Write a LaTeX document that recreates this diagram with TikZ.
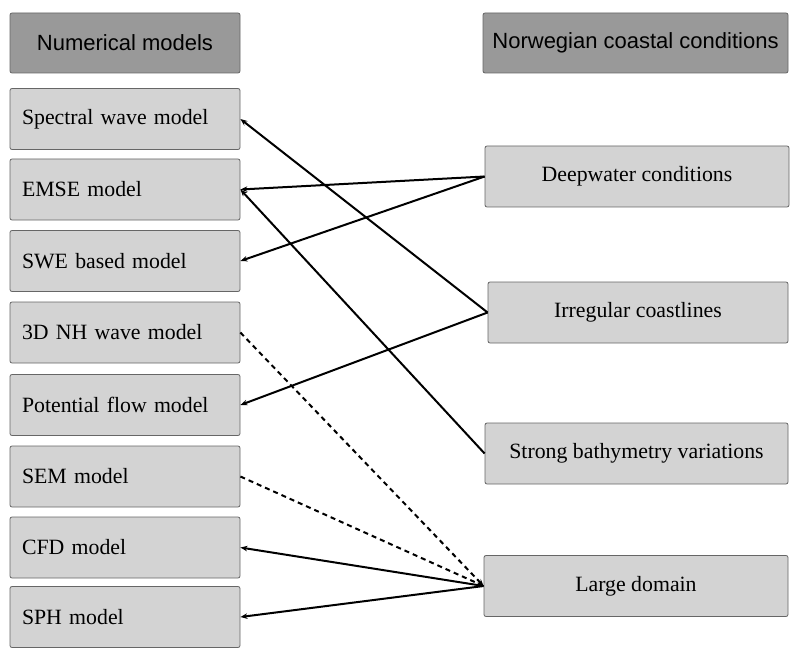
\documentclass[tikz,border=0pt]{standalone}
\usepackage{fontspec}
\setmainfont{Liberation Serif}
\setsansfont{Liberation Sans}
\usetikzlibrary{arrows.meta}
\definecolor{hdrfill}{HTML}{999999}
\definecolor{boxfill}{HTML}{D3D3D3}
\definecolor{boxline}{HTML}{666666}
\begin{document}
\begin{tikzpicture}[x=1pt,y=-1pt,
  basebox/.style={draw=boxline, line width=0.8pt, rounded corners=2pt, minimum height=61pt, inner sep=0pt},
  hdr/.style={basebox, fill=hdrfill, minimum height=60pt, font=\sffamily\fontsize{22}{25}\selectfont},
  lbox/.style={basebox, fill=boxfill, text width=206pt, inner xsep=12pt, align=left, font=\fontsize{21.8}{25}\selectfont},
  rbox/.style={basebox, fill=boxfill, align=center, font=\fontsize{21.8}{25}\selectfont},
  link/.style={line width=2pt, -{Stealth[length=7pt,width=5.5pt]}},
  dlink/.style={link, dash pattern=on 5pt off 4pt}]
\useasboundingbox (0,0) rectangle (791,652);
% headers
\node[hdr, minimum width=230pt] (hl) at (125,43) {Numerical models};
\node[hdr, minimum width=305pt] (hr) at (635.5,43) {Norwegian coastal conditions};
% left boxes
\node[lbox] (spec) at (125,119) {Spectral wave model};
\node[lbox] (emse) at (125,189.5) {EMSE model};
\node[lbox] (swe) at (125,261) {SWE based model};
\node[lbox] (nh) at (125,332.5) {3D NH wave model};
\node[lbox] (pot) at (125,405) {Potential flow model};
\node[lbox] (sem) at (125,476.5) {SEM model};
\node[lbox] (cfd) at (125,547.5) {CFD model};
\node[lbox] (sph) at (125,617) {SPH model};
% right boxes
\node[rbox, minimum width=304pt] (deep) at (637,176.5) {Deepwater conditions};
\node[rbox, minimum width=300pt] (irr) at (638,312.5) {Irregular coastlines};
\node[rbox, minimum width=303pt] (bath) at (636.5,453.5) {Strong bathymetry variations};
\node[rbox, minimum width=304pt] (large) at (636,586) {Large domain};
% connectors
\draw[link] (deep.west) -- (emse.east);
\draw[link] (deep.west) -- (swe.east);
\draw[link] (irr.west) -- (spec.east);
\draw[link] (irr.west) -- (pot.east);
\draw[link] (bath.west) -- (emse.east);
\draw[dlink] (nh.east) -- (large.west);
\draw[dlink] (sem.east) -- (large.west);
\draw[link] (large.west) -- (cfd.east);
\draw[link] (large.west) -- (sph.east);
\end{tikzpicture}
\end{document}
